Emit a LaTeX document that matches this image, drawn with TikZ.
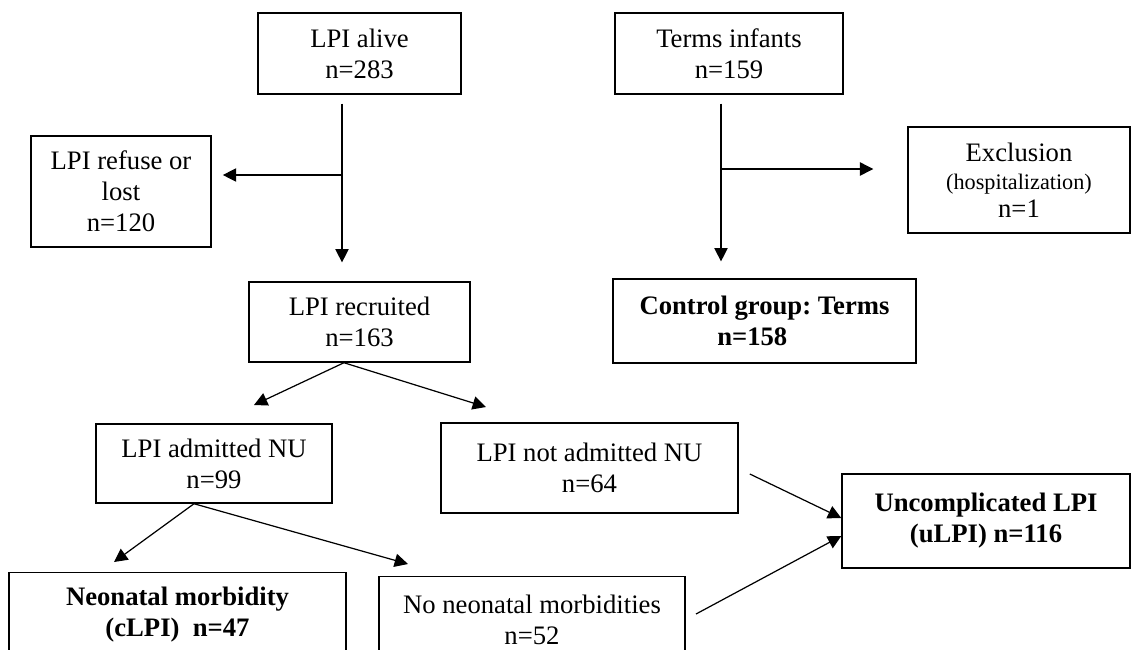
\documentclass[tikz,border=0pt]{standalone}
\usepackage{fontspec}
\setmainfont{Liberation Serif}
\usetikzlibrary{arrows.meta}
\frenchspacing

\begin{document}
\begin{tikzpicture}[x=0.45pt,y=-0.45pt,
  box/.style={draw,line width=0.65pt,align=center,inner sep=2pt,font=\fontsize{12}{14}\selectfont},
  boldbox/.style={box,font=\fontsize{12}{14}\selectfont\bfseries},
  arr/.style={line width=0.55pt,-{Triangle[length=6pt,width=6pt]}}]
\useasboundingbox (0,0) rectangle (1132,649);
\clip (0,0) rectangle (1132,649);
\node[box,minimum width=91.35pt,minimum height=36.45pt] (alive) at (359.5,53.5) {LPI alive\\n=283};
\node[box,minimum width=81pt,minimum height=49.95pt] (refuse) at (121,191.5) {LPI refuse or\\lost\\n=120};
\node[box,minimum width=102.6pt,minimum height=36.45pt] (terms) at (729,53.5) {Terms infants\\n=159};
\node[box,minimum width=99.9pt,minimum height=47.7pt] (excl) at (1019,180) {Exclusion\\[-1.5pt]{\fontsize{10}{12}\selectfont(hospitalization)}\\[-1.5pt]n=1};
\node[box,minimum width=99.45pt,minimum height=36pt] (recruited) at (359.5,322) {LPI recruited\\n=163};
\node[boldbox,minimum width=136.35pt,minimum height=37.8pt] (control) at (764.5,321) {Control group: Terms\\n=158\hspace*{11pt}};
\node[box,minimum width=106.2pt,minimum height=35.55pt] (admitted) at (214,463.5) {LPI admitted NU\\n=99};
\node[box,minimum width=133.65pt,minimum height=40.5pt] (notadm) at (589.5,468) {LPI not admitted NU\\n=64};
\node[boldbox,minimum width=129.6pt,minimum height=42.3pt] (ulpi) at (986,521) {Uncomplicated LPI\\(uLPI) n=116};
\node[boldbox,minimum width=151.65pt,inner ysep=6.5pt,anchor=north] (morb) at (177.5,572) {Neonatal morbidity\\(cLPI)\ \ n=47\rule[-25pt]{0pt}{0pt}};
\node[box,minimum width=137.7pt,inner ysep=8pt,anchor=north] (nomorb) at (532,576) {No neonatal morbidities\\n=52\rule[-25pt]{0pt}{0pt}};

\coordinate (jl) at (342,175);
\coordinate (jr) at (721,169);
\coordinate (t-adm) at (254,405);
\coordinate (t-not) at (486,407);
\coordinate (t-morb) at (114,562);
\coordinate (t-nomorb) at (408,564);
\coordinate (s-nomorb) at (696,614);

\draw[arr,shorten <=4pt,shorten >=8.5pt] (alive.south -| jl) -- (recruited.north -| jl);
\draw[arr,shorten >=5pt] (jl) -- (refuse.east |- jl);
\draw[arr,shorten <=4pt,shorten >=7.6pt] (terms.south -| jr) -- (control.north -| jr);
\draw[arr,shorten >=15.3pt] (jr) -- (excl.west |- jr);
\draw[arr] ([xshift=-7pt]recruited.south) -- (t-adm);
\draw[arr] ([xshift=-7pt]recruited.south) -- (t-not);
\draw[arr] ([xshift=-9pt]admitted.south) -- (t-morb);
\draw[arr] ([xshift=-9pt]admitted.south) -- (t-nomorb);
\draw[arr] ([shift={(5pt,-2.7pt)}]notadm.east) -- ([yshift=1.35pt]ulpi.west);
\draw[arr] (s-nomorb) -- ([yshift=-6.75pt]ulpi.west);
\end{tikzpicture}
\end{document}
